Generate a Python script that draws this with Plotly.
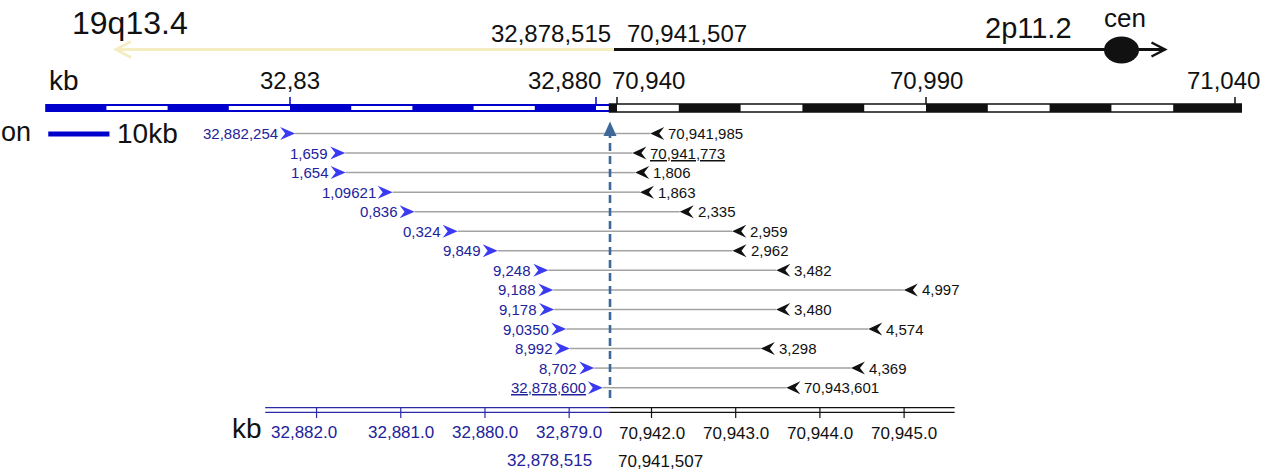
import plotly.graph_objects as go

# ---------------------------------------------------------------- data (kb)
BREAK_19 = 32878.515   # chr19 breakpoint
BREAK_2 = 70941.507    # chr2 breakpoint

# clone ends on the chr19 side and the labels printed beside them
left_kb = [32882.254, 32881.659, 32881.654, 32881.096, 32880.836, 32880.324, 32879.849,
           32879.248, 32879.188, 32879.178, 32879.035, 32878.992, 32878.702, 32878.600]
left_labels = ["32,882,254", "1,659", "1,654", "1,09621", "0,836", "0,324", "9,849",
               "9,248", "9,188", "9,178", "9,0350", "8,992", "8,702", "<u>32,878,600</u>"]

# clone ends on the chr2 side
right_kb = [70941.985, 70941.773, 70941.806, 70941.863, 70942.335, 70942.959, 70942.962,
            70943.482, 70944.997, 70943.480, 70944.574, 70943.298, 70944.369, 70943.601]
right_labels = ["70,941,985", "<u>70,941,773</u>", "1,806", "1,863", "2,335", "2,959", "2,962",
                "3,482", "4,997", "3,480", "4,574", "3,298", "4,369", "70,943,601"]

# detail scale
detail_ticks_19 = [32882.0, 32881.0, 32880.0, 32879.0]
detail_tick_labels_19 = ["32,882.0", "32,881.0", "32,880.0", "32,879.0"]
detail_ticks_2 = [70942.0, 70943.0, 70944.0, 70945.0]
detail_tick_labels_2 = ["70,942.0", "70,943.0", "70,944.0", "70,945.0"]
detail_span_19 = [32882.61, BREAK_19]
detail_span_2 = [BREAK_2, 70945.60]

# overview scale
overview_span_19 = [32790.0, 32882.3]
overview_span_2 = [70938.8, 71041.0]
overview_ticks_19 = [32830, 32880]
overview_tick_labels_19 = ["32,83", "32,880"]
overview_ticks_2 = [70940, 70990, 71040]
overview_tick_labels_2 = ["70,940", "70,990", "71,040"]

# ---------------------------------------------------------------- styling
W, H = 1266, 472
FONT = "Liberation Sans, Arial, sans-serif"
INK = "#111111"
BLUE_BAR = "#0000cc"
BLUE_TXT = "#22229c"
BLUE_HEAD = "#3a3af2"
GREY = "#a3a3a3"
DASH = "#3d6899"
PALE = "#f5edc2"

BP_PX = 610.0          # horizontal position of the junction
DET = 84.2             # px per kb on the detail axes
OV19, OV2 = 6.12, 6.18 # px per kb on the overview axes

row_y = [133.5 + i * 19.55 for i in range(len(left_kb))]

fig = go.Figure()

# ---------------------------------------------------------------- clone lines
xs19, ys19, xs2, ys2 = [], [], [], []
for a, b, y in zip(left_kb, right_kb, row_y):
    xs19 += [a, BREAK_19, None]
    ys19 += [y, y, None]
    xs2 += [BREAK_2, b, None]
    ys2 += [y, y, None]
fig.add_trace(go.Scatter(x=xs19, y=ys19, mode="lines", xaxis="x", yaxis="y",
                         line=dict(color=GREY, width=1.5), hoverinfo="skip"))
fig.add_trace(go.Scatter(x=xs2, y=ys2, mode="lines", xaxis="x2", yaxis="y",
                         line=dict(color=GREY, width=1.5), hoverinfo="skip"))

shapes = []
ann = []

def text(x, y, s, xref, size, color=INK, xanchor="center", xshift=0):
    ann.append(dict(x=x, y=y, xref=xref, yref="y", text=s, showarrow=False,
                    xanchor=xanchor, yanchor="middle", xshift=xshift,
                    font=dict(family=FONT, size=size, color=color)))

# arrowheads and labels on every row
for a, b, y, la, lb in zip(left_kb, right_kb, row_y, left_labels, right_labels):
    shapes.append(dict(type="path", xref="x", yref="y", xsizemode="pixel", xanchor=a,
                       path=f"M0,{y} L-15,{y - 6.5} L-10,{y} L-15,{y + 6.5} Z",
                       fillcolor=BLUE_HEAD, line=dict(width=0)))
    shapes.append(dict(type="path", xref="x2", yref="y", xsizemode="pixel", xanchor=b,
                       path=f"M0,{y} L14,{y - 6.5} L9,{y} L14,{y + 6.5} Z",
                       fillcolor=INK, line=dict(width=0)))
    text(a, y, la, "x", 15, BLUE_TXT, xanchor="right", xshift=-15)
    text(b, y, lb, "x2", 15, INK, xanchor="left", xshift=16)

# junction marker: dashed line with arrowhead
shapes.append(dict(type="line", xref="x", yref="y", x0=BREAK_19, x1=BREAK_19, y0=398, y1=134,
                   line=dict(color=DASH, width=2.6, dash="8px,5px")))
shapes.append(dict(type="path", xref="x", yref="y", xsizemode="pixel", xanchor=BREAK_19,
                   path="M-6.5,136 L0,121.5 L6.5,136 Z", fillcolor=DASH, line=dict(width=0)))

# ---------------------------------------------------------------- detail scale
for yy in (407.7, 412.3):
    shapes.append(dict(type="line", xref="x", yref="y", x0=detail_span_19[0], x1=detail_span_19[1],
                       y0=yy, y1=yy, line=dict(color="#2b2ba8", width=1.2)))
    shapes.append(dict(type="line", xref="x2", yref="y", x0=detail_span_2[0], x1=detail_span_2[1],
                       y0=yy, y1=yy, line=dict(color=INK, width=1.2)))
for i, (t, lab) in enumerate(zip(detail_ticks_19, detail_tick_labels_19)):
    shapes.append(dict(type="line", xref="x", yref="y", x0=t, x1=t, y0=407.7, y1=418,
                       line=dict(color="#2b2ba8", width=1.2)))
    text(t, 432, lab, "x", 17, BLUE_TXT, xshift=-13 if i == 0 else 0)
for t, lab in zip(detail_ticks_2, detail_tick_labels_2):
    shapes.append(dict(type="line", xref="x2", yref="y", x0=t, x1=t, y0=407.7, y1=418,
                       line=dict(color=INK, width=1.2)))
    text(t, 433, lab, "x2", 17, INK)
text(230, 428, "kb", "x5", 28, INK, xanchor="left")
text(BREAK_19, 460, "32,878,515", "x", 17, BLUE_TXT, xanchor="right", xshift=-16)
text(BREAK_2, 461, "70,941,507", "x2", 17, INK, xanchor="left", xshift=6)

# ---------------------------------------------------------------- overview bar
y_top, y_bot = 104, 112
shapes.append(dict(type="rect", xref="x3", yref="y", x0=overview_span_19[0], x1=overview_span_19[1],
                   y0=y_top, y1=y_bot, fillcolor=BLUE_BAR, line=dict(width=0)))
k = 0
s = overview_span_19[0]
while s < overview_span_19[1]:
    e = min(s + 10, overview_span_19[1])
    if k % 2 == 1:
        shapes.append(dict(type="rect", xref="x3", yref="y", x0=s, x1=e, y0=106, y1=110,
                           fillcolor="white", line=dict(width=0)))
    s, k = s + 10, k + 1

shapes.append(dict(type="rect", xref="x4", yref="y", x0=overview_span_2[0], x1=overview_span_2[1],
                   y0=y_top, y1=y_bot, fillcolor="white", line=dict(color=INK, width=1.6)))
black_segs = [(overview_span_2[0], 70940)]
for k in range(10):
    if k % 2 == 1:
        s = 70940 + 10 * k
        e = s + 10 if k < 9 else overview_span_2[1]
        black_segs.append((s, e))
for s, e in black_segs:
    shapes.append(dict(type="rect", xref="x4", yref="y", x0=s, x1=e, y0=y_top, y1=y_bot,
                       fillcolor=INK, line=dict(width=0)))

for t in overview_ticks_19:
    shapes.append(dict(type="line", xref="x3", yref="y", x0=t, x1=t, y0=97, y1=y_top,
                       line=dict(color=BLUE_BAR, width=1.5)))
for t in overview_ticks_2:
    shapes.append(dict(type="line", xref="x4", yref="y", x0=t, x1=t, y0=97, y1=y_top,
                       line=dict(color=INK, width=1.5)))

text(overview_ticks_19[0], 80, overview_tick_labels_19[0], "x3", 24)
text(overview_ticks_19[1], 80, overview_tick_labels_19[1], "x3", 24, xanchor="right", xshift=7)
text(overview_ticks_2[0], 80, overview_tick_labels_2[0], "x4", 24, xanchor="left", xshift=-7)
text(overview_ticks_2[1], 80, overview_tick_labels_2[1], "x4", 24)
text(overview_ticks_2[2], 80, overview_tick_labels_2[2], "x4", 24, xshift=-12)
text(47, 80, "kb", "x5", 28, INK, xanchor="left")

# 10 kb scale bar
shapes.append(dict(type="line", xref="x3", yref="y", x0=32790.5, x1=32800.5, y0=134, y1=134,
                   line=dict(color=BLUE_BAR, width=5)))
text(115, 133, "10kb", "x5", 28, INK, xanchor="left")
text(33, 132, "on", "x5", 27, INK, xanchor="right")

# ---------------------------------------------------------------- chromosome orientation
shapes.append(dict(type="line", xref="x5", yref="y", x0=614, x1=117, y0=49.5, y1=49.5,
                   line=dict(color=PALE, width=3)))
shapes.append(dict(type="path", xref="x5", yref="y",
                   path="M131,41.5 L116,49.5 L131,57.5", line=dict(color=PALE, width=3)))
shapes.append(dict(type="line", xref="x5", yref="y", x0=614, x1=1163, y0=49.5, y1=49.5,
                   line=dict(color=INK, width=2.8)))
shapes.append(dict(type="path", xref="x5", yref="y",
                   path="M1151.5,42.5 L1165,49.5 L1151.5,56.5", line=dict(color=INK, width=2.5)))
shapes.append(dict(type="circle", xref="x5", yref="y", x0=1104, x1=1139, y0=36.5, y1=63.5,
                   fillcolor=INK, line=dict(width=0)))

text(70, 23, "19q13.4", "x5", 32, INK, xanchor="left")
text(983, 28, "2p11.2", "x5", 29, INK, xanchor="left")
text(1125, 18, "cen", "x5", 26, INK)
text(613, 33, "32,878,515", "x5", 24, xanchor="right")
text(625, 33, "70,941,507", "x5", 24, xanchor="left")

# ---------------------------------------------------------------- layout
def hidden(rng, overlay=True):
    d = dict(range=rng, visible=False, fixedrange=True, anchor="y", domain=[0, 1])
    if overlay:
        d["overlaying"] = "x"
    return d

fig.update_layout(
    width=W, height=H, autosize=False,
    margin=dict(l=0, r=0, t=0, b=0),
    paper_bgcolor="white", plot_bgcolor="white",
    showlegend=False,
    xaxis=hidden([BREAK_19 + BP_PX / DET, BREAK_19 - (W - BP_PX) / DET], overlay=False),
    xaxis2=hidden([BREAK_2 - BP_PX / DET, BREAK_2 + (W - BP_PX) / DET]),
    xaxis3=hidden([32880 - 596 / OV19, 32880 + (W - 596) / OV19]),
    xaxis4=hidden([70940 - 617 / OV2, 70940 + (W - 617) / OV2]),
    xaxis5=hidden([0, W]),
    yaxis=dict(range=[H, 0], visible=False, fixedrange=True, domain=[0, 1]),
    shapes=shapes,
    annotations=ann,
)

fig.write_html("out.html")
